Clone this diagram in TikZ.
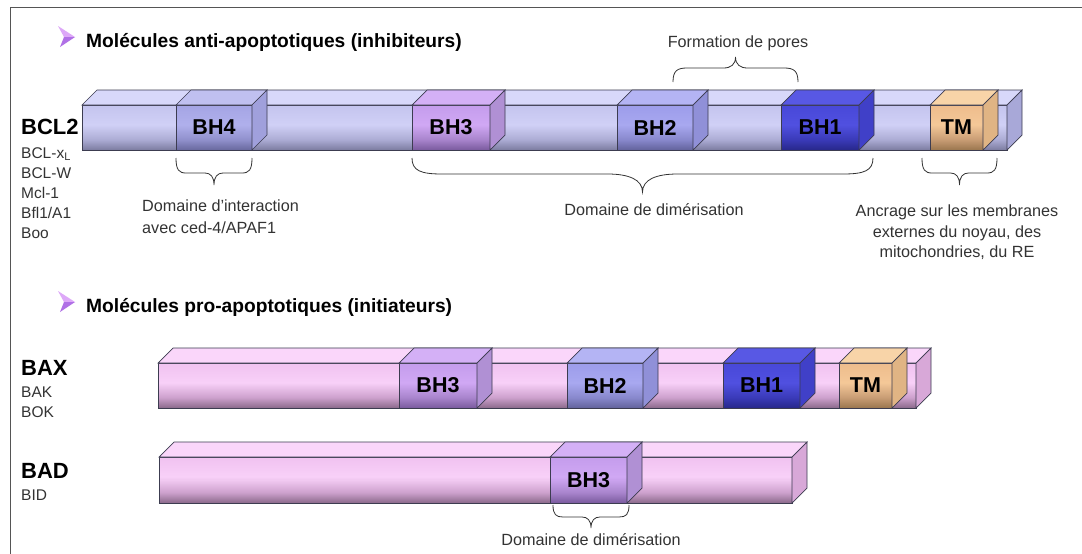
\documentclass[tikz,border=0pt]{standalone}
\usepackage{fontspec}
\setmainfont{Liberation Sans}
\newcommand\mkgrad[5]{%
 \definecolor{#1dk}{HTML}{#2}\definecolor{#1md}{HTML}{#3}\definecolor{#1lt}{HTML}{#4}\definecolor{#1tp}{HTML}{#5}}
\mkgrad{gBlue}{7E7EA2}{ACACD4}{D0D0F6}{C4C4EE}
\mkgrad{gPink}{8E6C8E}{CCA0CC}{F8D0F8}{F0C2F0}
\mkgrad{gBHq}{6A6AA0}{9090CC}{B0B0EC}{A4A4E4}
\mkgrad{gBHt}{7C5CA0}{A884CC}{D0A8F4}{C49CEC}
\mkgrad{gBHd}{64649E}{8888CC}{A8A8F0}{9C9CEA}
\mkgrad{gBHu}{28288C}{3A3AB8}{5050E0}{4848D8}
\mkgrad{gTM}{9C7850}{C89C74}{F4C898}{EEBC8C}
\definecolor{edgec}{HTML}{3C3C50}
\definecolor{txtc}{HTML}{333333}
\definecolor{framec}{HTML}{555555}
\definecolor{blueTop}{HTML}{D8D8FA}\definecolor{blueEnd}{HTML}{A8A8D8}
\definecolor{pinkTop}{HTML}{FAD6FA}\definecolor{pinkEnd}{HTML}{D8A8D8}
\definecolor{bhqTop}{HTML}{C0C0F0}\definecolor{bhqSide}{HTML}{A0A0DC}
\definecolor{bhtTop}{HTML}{D4B0F6}\definecolor{bhtSide}{HTML}{B090D4}
\definecolor{bhdTop}{HTML}{B4B4F4}\definecolor{bhdSide}{HTML}{9090D8}
\definecolor{bhuTop}{HTML}{5858E4}\definecolor{bhuSide}{HTML}{4040C8}
\definecolor{tmTop}{HTML}{F8D4A8}\definecolor{tmSide}{HTML}{E0B484}
\definecolor{arrLt}{HTML}{DDA8F8}\definecolor{arrDk}{HTML}{B070E6}
\newcommand\gradface[5]{%
 \foreach \gi in {0,...,44}{%
  \pgfmathsetmacro\gt{(\gi+0.5)/45}%
  \pgfmathsetmacro\gya{#3+(#4-#3)*\gi/45}%
  \pgfmathsetmacro\gyb{#3+(#4-#3)*(\gi+1)/45+0.4}%
  \ifdim\gt pt<0.45pt
    \pgfmathsetmacro\gq{\gt/0.45*100}\colorlet{gcur}{#5lt!\gq!#5tp}%
  \else\ifdim\gt pt<0.78pt
    \pgfmathsetmacro\gq{(\gt-0.45)/0.33*100}\colorlet{gcur}{#5md!\gq!#5lt}%
  \else
    \pgfmathsetmacro\gq{(\gt-0.78)/0.22*100}\colorlet{gcur}{#5dk!\gq!#5md}%
  \fi\fi
  \fill[gcur] (#1,\gya) rectangle (#2,\gyb);
 }}
\newcommand\slab[7]{%
 \gradface{#1}{#2}{#3}{#4}{#5}
 \draw[edge] (#1,#3) rectangle (#2,#4);
 \filldraw[edge,fill=#6] (#1,#3) -- (#1+15,#3-15) -- (#2+15,#3-15) -- (#2,#3) -- cycle;
 \filldraw[edge,fill=#7] (#2,#3) -- (#2+15,#3-15) -- (#2+15,#4-15) -- (#2,#4) -- cycle;}
\newcommand\dom[9]{%
 \slab{#1}{#2}{#3}{#4}{#5}{#6}{#7}
 \node[boxlbl] (#8) at ({(#1+#2)/2},{(#3+#4)/2}) {#9};}
\newcommand\curly[7]{%
 \pgfmathsetmacro\xm{(#1+#2)/2}%
 \draw[brc] (#1,#3) .. controls (#1,{#3+0.8*(#4-#3)}) and ({#1+0.3*#6},#4) .. ({#1+#6},#4)
 -- ({\xm-#7},#4) .. controls ({\xm-0.4*#7},#4) and (\xm,{#4+0.3*(#5-#4)}) .. (\xm,#5)
 .. controls (\xm,{#4+0.3*(#5-#4)}) and ({\xm+0.4*#7},#4) .. ({\xm+#7},#4)
 -- ({#2-#6},#4) .. controls ({#2-0.3*#6},#4) and (#2,{#3+0.8*(#4-#3)}) .. (#2,#3);}
\newcommand\titarrow[2]{%
 \fill[arrLt] (#1,#2-11) -- (#1+17,#2) -- (#1+6,#2) -- cycle;
 \fill[arrDk] (#1+6,#2) -- (#1+17,#2) -- (#1+2,#2+10) -- cycle;}
\begin{document}
\begin{tikzpicture}[x=1pt,y=-1pt,
  edge/.style={draw=edgec,line width=0.7pt},
  brc/.style={draw=txtc,line width=0.8pt},
  boxlbl/.style={inner sep=0pt,font=\fontsize{21.5}{24}\selectfont\bfseries,text=black},
  titl/.style={anchor=base west,inner sep=0pt,font=\fontsize{19.2}{22}\selectfont\bfseries,text=black},
  prot/.style={anchor=base west,inner sep=0pt,font=\fontsize{22}{25}\selectfont\bfseries,text=black},
  sub/.style={anchor=base west,inner sep=0pt,font=\fontsize{15.5}{18}\selectfont,text=txtc},
  desc/.style={anchor=base,inner sep=0pt,font=\fontsize{16.2}{19}\selectfont,text=txtc}]
\useasboundingbox (0,0) rectangle (1082,554);
\fill[white] (0,0) rectangle (1082,554);
\draw[framec,line width=0.8pt] (10,554) -- (10,7) -- (1082,7);
% titles
\titarrow{58}{37}
\node[titl] (tit1) at (86,47) {Molécules anti-apoptotiques (inhibiteurs)};
\titarrow{58}{302}
\node[titl] (tit2) at (86,312) {Molécules pro-apoptotiques (initiateurs)};
% BCL2
\slab{82}{1007}{105}{150}{gBlue}{blueTop}{blueEnd}
\dom{176}{252}{105}{150}{gBHq}{bhqTop}{bhqSide}{bcl2bh4}{BH4}
\dom{412}{490}{105}{150}{gBHt}{bhtTop}{bhtSide}{bcl2bh3}{BH3}
\dom{617}{693}{105}{150}{gBHd}{bhdTop}{bhdSide}{bcl2bh2}{BH2}
\dom{781}{859}{105}{150}{gBHu}{bhuTop}{bhuSide}{bcl2bh1}{BH1}
\dom{930}{983}{105}{150}{gTM}{tmTop}{tmSide}{bcl2tm}{TM}
\node[prot] (bcl2) at (21,134) {BCL2};
\node[sub] (bclx) at (21,158) {BCL-x\raisebox{-0.35ex}{\fontsize{11}{12}\selectfont L}};
\node[sub] (bclw) at (21,178) {BCL-W};
\node[sub] (mcl) at (21,198) {Mcl-1};
\node[sub] (bfl) at (21,218) {Bfl1/A1};
\node[sub] (boo) at (21,238) {Boo};
% BCL2 braces
\curly{176}{252}{158}{173}{185}{10}{9}
\curly{412}{873}{158}{174}{192}{30}{35}
\curly{922}{997}{158}{173}{185}{10}{9}
\curly{673}{798}{82}{68}{57}{14}{12}
\node[desc,anchor=base west] (inter1) at (142,211.5) {Domaine d'interaction};
\node[desc,anchor=base west] (inter2) at (142,233) {avec ced-4/APAF1};
\node[desc] (dim1) at (654,215) {Domaine de dimérisation};
\node[desc] (pores) at (738,47) {Formation de pores};
\node[desc] (anc1) at (957,216) {Ancrage sur les membranes};
\node[desc] (anc2) at (957,237) {externes du noyau, des};
\node[desc] (anc3) at (957,257) {mitochondries, du RE};
% BAX
\slab{158}{916}{363}{408}{gPink}{pinkTop}{pinkEnd}
\dom{399}{477}{363}{408}{gBHt}{bhtTop}{bhtSide}{baxbh3}{BH3}
\dom{567}{643}{363}{408}{gBHd}{bhdTop}{bhdSide}{baxbh2}{BH2}
\dom{723}{800}{363}{408}{gBHu}{bhuTop}{bhuSide}{baxbh1}{BH1}
\dom{839}{892}{363}{408}{gTM}{tmTop}{tmSide}{baxtm}{TM}
\node[prot] (bax) at (21,375) {BAX};
\node[sub] (bak) at (21,397) {BAK};
\node[sub] (bok) at (21,417) {BOK};
% BAD
\slab{159}{792}{457}{503}{gPink}{pinkTop}{pinkEnd}
\dom{550}{627}{457}{503}{gBHt}{bhtTop}{bhtSide}{badbh3}{BH3}
\node[prot] (bad) at (21,478) {BAD};
\node[sub] (bid) at (21,500) {BID};
\curly{553}{629}{505}{517}{528}{10}{9}
\node[desc] (dim2) at (591,545) {Domaine de dimérisation};
\end{tikzpicture}
\end{document}
